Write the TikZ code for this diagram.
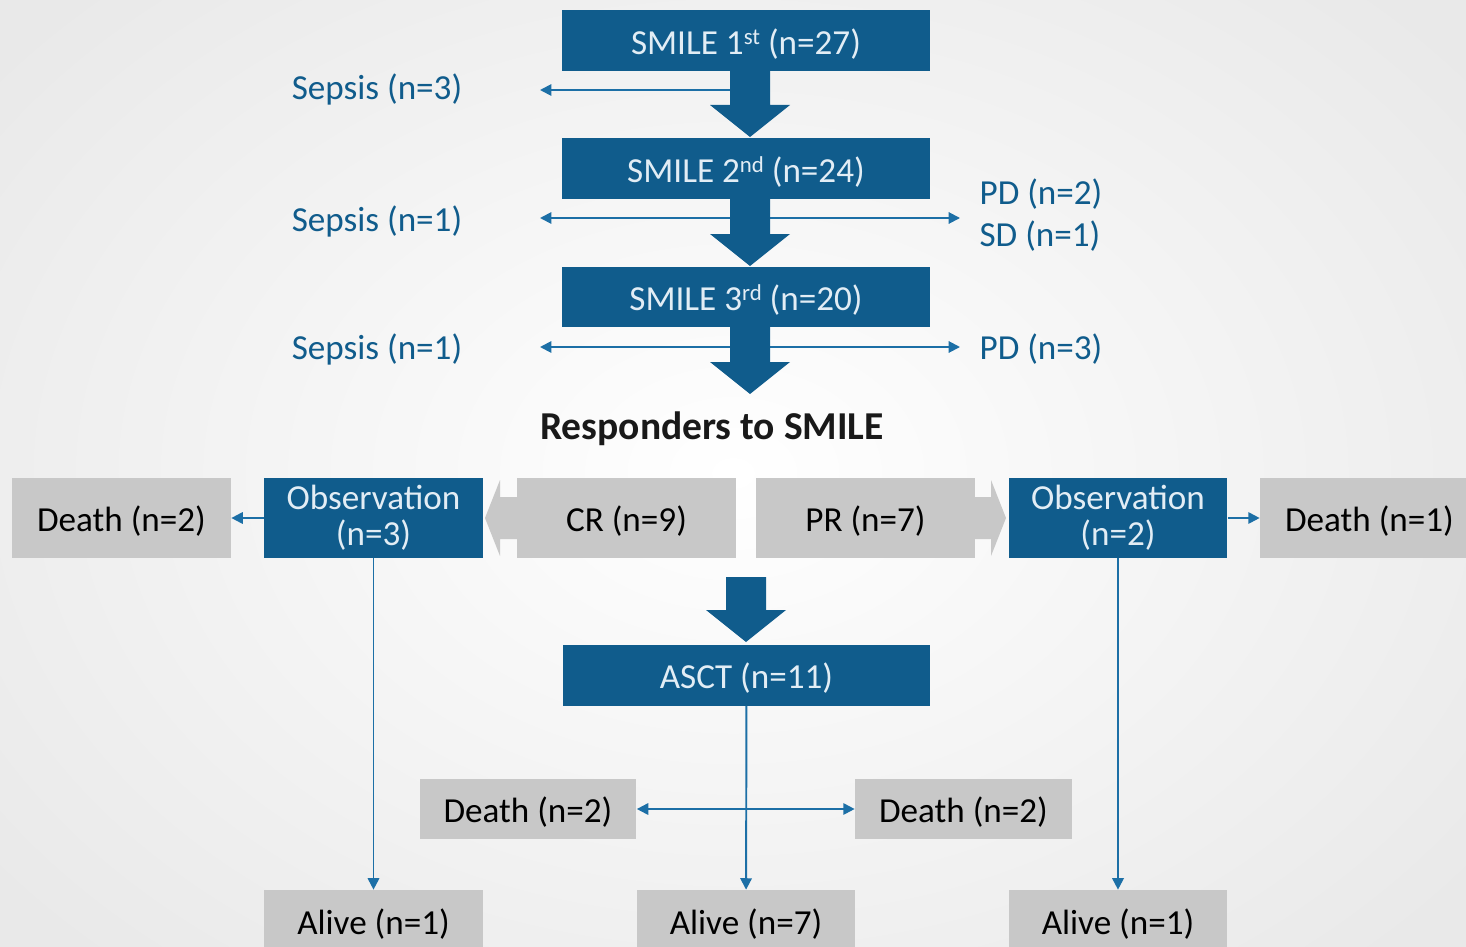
\documentclass[tikz,border=0pt]{standalone}
\usepackage{fontspec}
\setmainfont{Carlito}
\usetikzlibrary{calc,positioning,arrows.meta}
\definecolor{SmileBlue}{HTML}{105C8C}
\definecolor{SmileLine}{HTML}{1C6FA6}
\definecolor{SmileText}{HTML}{E2EDF5}
\definecolor{BoxGrey}{HTML}{C8C8C8}
\definecolor{PageGrey}{HTML}{E9E9E9}

% block arrow pointing down: x, top y, tip y (pixel units)
\newcommand{\blockdown}[3]{%
  \fill[SmileBlue] (#1-20,#2) -- (#1+20,#2) -- (#1+20,#3-32) -- (#1+40,#3-32)
    -- (#1,#3) -- (#1-40,#3-32) -- (#1-20,#3-32) -- cycle;}
% small raised ordinal
\newcommand{\ordsup}[1]{\smash{\raisebox{0.6ex}{\fontsize{13}{13}\selectfont #1}}}

\tikzset{
  txt/.style={font=\fontsize{20}{20.5}\selectfont},
  bluebox/.style={txt, fill=SmileBlue, text=SmileText, inner sep=0pt, align=center},
  greybox/.style={txt, fill=BoxGrey, text=black, inner sep=0pt, align=center},
  one/.style={text height=20pt, text depth=4.5pt},
  wide/.style={one, minimum width=7.36cm, minimum height=1.22cm},
  mid/.style={minimum width=4.38cm, minimum height=1.6cm},
  low/.style={one, minimum width=4.34cm, minimum height=1.2cm},
  lbl/.style={txt, text=SmileBlue, inner sep=0pt, align=left},
  flow/.style={draw=SmileLine, line width=1.1pt, -{Triangle[length=6.5pt,width=6.5pt]}}
}

\begin{document}
\begin{tikzpicture}[x=0.02cm, y=-0.02cm]
  \clip (0,0) rectangle (1466,946);
  \shade[inner color=white, outer color=PageGrey] (-200,-200) rectangle (1666,1146);

  % treatment cycles
  \node[bluebox, wide] (s1) at (746,40.5) {SMILE 1\ordsup{st} (n=27)};
  \node[bluebox, wide] (s2) at (746,168.5) {SMILE 2\ordsup{nd} (n=24)};
  \node[bluebox, wide] (s3) at (746,297) {SMILE 3\ordsup{rd} (n=20)};

  \node[lbl] (sep1) at (377,89) {Sepsis (n=3)};
  \node[lbl] (sep2) at (377,221) {Sepsis (n=1)};
  \node[lbl] (sep3) at (377,349) {Sepsis (n=1)};
  \node[lbl, font=\fontsize{20}{24}\selectfont] (pdsd) at (1041,215) {PD (n=2)\\SD (n=1)};
  \node[lbl] (pd3) at (1041,349) {PD (n=3)};

  \coordinate (b1) at (750,90);
  \coordinate (b2) at (750,218);
  \coordinate (b3) at (750,347);
  \coordinate (e1) at (540,90);
  \coordinate (e2) at (540,218);
  \coordinate (f2) at (960,218);
  \coordinate (e3) at (540,347);
  \coordinate (f3) at (960,347);
  \draw[flow] (b1) -- (e1);
  \draw[flow] (b2) -- (e2);
  \draw[flow] (b2) -- (f2);
  \draw[flow] (b3) -- (e3);
  \draw[flow] (b3) -- (f3);

  \blockdown{750}{71}{137}
  \blockdown{750}{199}{266}
  \blockdown{750}{327}{394}

  \node[font=\fontsize{22.5}{23}\selectfont\bfseries, text=black!90] (resp) at (712,429) {Responders to SMILE};

  % response row
  \fill[BoxGrey] (485,518) -- (500,480) -- (500,497) -- (540,497) -- (540,539) -- (500,539) -- (500,556) -- cycle;
  \fill[BoxGrey] (1006,518) -- (991,480) -- (991,497) -- (950,497) -- (950,539) -- (991,539) -- (991,556) -- cycle;

  \node[greybox, mid, one] (dthL) at (121.5,518) {Death (n=2)};
  \node[bluebox, mid] (obsL) at (373.5,518) {Observation\\(n=3)};
  \node[greybox, mid, one] (cr) at (626.5,518) {CR (n=9)};
  \node[greybox, mid, one] (pr) at (865.5,518) {PR (n=7)};
  \node[bluebox, mid] (obsR) at (1118,518) {Observation\\(n=2)};
  \node[greybox, mid, one] (dthR) at (1369.5,518) {Death (n=1)};

  \draw[flow] (obsL) -- (dthL);
  \draw[flow] (obsR) -- (dthR);

  % transplant
  \blockdown{746}{577}{642}
  \node[bluebox, wide] (asct) at (746.5,675) {ASCT (n=11)};

  \node[greybox, low] (dthA) at (528,809) {Death (n=2)};
  \node[greybox, low] (dthB) at (963.5,809) {Death (n=2)};

  \node[greybox, mid, one, minimum height=1.24cm] (aliveL) at (373.5,921) {Alive (n=1)};
  \node[greybox, mid, one, minimum height=1.24cm] (aliveM) at (746,921) {Alive (n=7)};
  \node[greybox, mid, one, minimum height=1.24cm] (aliveR) at (1118,921) {Alive (n=1)};

  \coordinate (bx) at (746.5,809);
  \draw[flow] (asct) -- (aliveM);
  \draw[flow] (bx) -- (dthA);
  \draw[flow] (bx) -- (dthB);
  \draw[flow] (obsL) -- (aliveL);
  \draw[flow] (obsR) -- (aliveR);
\end{tikzpicture}
\end{document}
